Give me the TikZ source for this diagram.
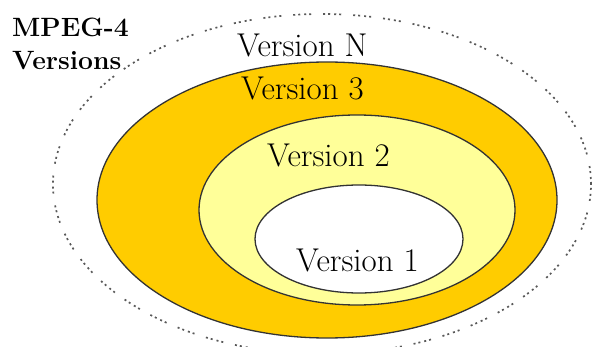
\documentclass[tikz,border=0pt]{standalone}
\usepackage{fontspec}
\usetikzlibrary{calc}
\definecolor{vgold}{HTML}{FFCC00}
\definecolor{vpale}{HTML}{FFFF99}

\begin{document}
\begin{tikzpicture}[x=1pt,y=-1pt]
		%%%%% START %%%%%
		\useasboundingbox (0,0) rectangle (594,347);
		
		\draw[black!65, line width=1.7pt, dash pattern=on 2pt off 3pt on 2pt off 4pt on 2pt off 3pt on 2pt off 12pt] (322,184) ellipse [x radius=269pt, y radius=170pt];
		
		\draw[fill=vgold, draw=black!80, line width=1.3pt] (327,200) ellipse [x radius=230pt, y radius=138pt];
		\draw[fill=vpale, draw=black!80, line width=1.3pt] (357,210) ellipse [x radius=158pt, y radius=95pt];
		\draw[fill=white, draw=black!80, line width=1.3pt] (359,239) ellipse [x radius=104pt, y radius=54pt];
		
		\node[anchor=base west, inner sep=0, font=\fontsize{26.5}{33}\selectfont\bfseries] (mpeg) at (12,37) {MPEG-4};
		\node[anchor=base west, inner sep=0, font=\fontsize{26.5}{33}\selectfont\bfseries] (versions) at (12,70) {Versions};
		
		\node[anchor=base west, inner sep=0, font=\fontsize{33}{33}\selectfont] (vN) at (237,57) {Version N};
		\node[anchor=base west, inner sep=0, font=\fontsize{33}{33}\selectfont] (v3) at (241,100) {Version 3};
		\node[anchor=base west, inner sep=0, font=\fontsize{33}{33}\selectfont] (v2) at (267,167) {Version 2};
		\node[anchor=base west, inner sep=0, font=\fontsize{33}{33}\selectfont] (v1) at (296,272) {Version 1};
		%%%%% END %%%%%
\end{tikzpicture}
\end{document}
